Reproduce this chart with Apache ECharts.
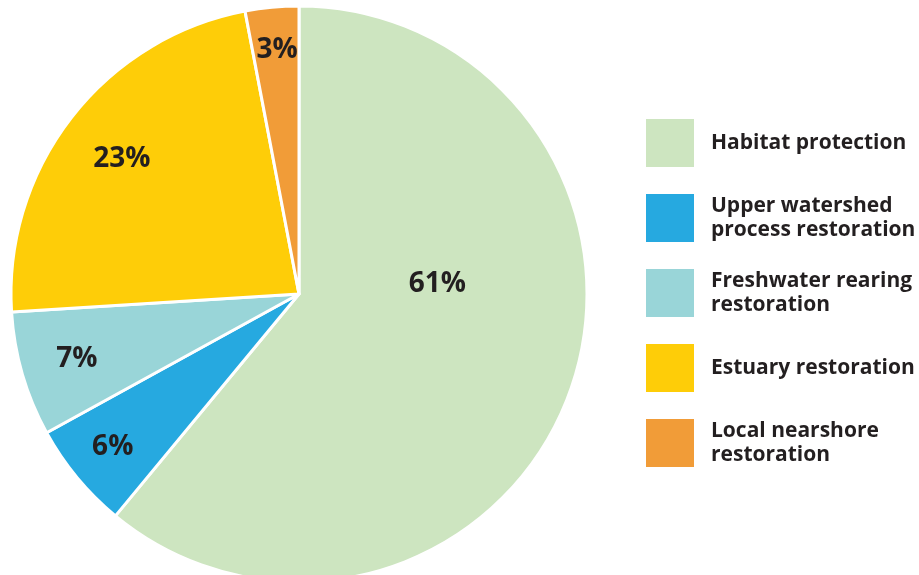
<!DOCTYPE html>
<html>
<head>
<meta charset="utf-8">
<script src="https://cdn.jsdelivr.net/npm/echarts@6/dist/echarts.min.js"></script>
<style>html,body{margin:0;padding:0;background:#fff}#c{width:919px;height:575px}</style>
</head>
<body>
<div id="c"></div>
<script>
const categories = ["Habitat protection", "Upper watershed\nprocess restoration", "Freshwater rearing\nrestoration", "Estuary restoration", "Local nearshore\nrestoration"];
const values = [61, 6, 7, 23, 3];
const colors = ["#cde5c0", "#26a9e0", "#99d5d8", "#fecd08", "#f19c38"];
const labelOffsets = [[0, -60], [-73, 59], [-81, 24], [-61, -45], [-8, -98]];

const chart = echarts.init(document.getElementById('c'), null, {renderer: 'canvas'});
chart.setOption({
  animation: false,
  legend: {
    orient: 'vertical',
    left: 646,
    top: 119,
    padding: 0,
    itemWidth: 48,
    itemHeight: 48,
    itemGap: 27,
    icon: 'rect',
    itemStyle: {borderWidth: 0},
    textStyle: {
      fontFamily: 'Open Sans',
      fontWeight: 'bold',
      fontSize: 21,
      lineHeight: 24,
      color: '#231f20',
      padding: [0, 0, 0, 12]
    },
    data: categories
  },
  series: [{
    type: 'pie',
    center: [299, 294],
    radius: [0, 288],
    startAngle: 90,
    clockwise: true,
    avoidLabelOverlap: false,
    itemStyle: {borderColor: '#ffffff', borderWidth: 3},
    label: {
      show: true,
      position: 'inside',
      formatter: '{c}%',
      fontFamily: 'Open Sans',
      fontWeight: 'bold',
      fontSize: 28,
      color: '#231f20'
    },
    labelLine: {show: false},
    emphasis: {disabled: true},
    data: categories.map((n, i) => ({
      name: n,
      value: values[i],
      itemStyle: {color: colors[i]},
      label: {offset: labelOffsets[i]}
    }))
  }]
});
</script>
</body>
</html>
